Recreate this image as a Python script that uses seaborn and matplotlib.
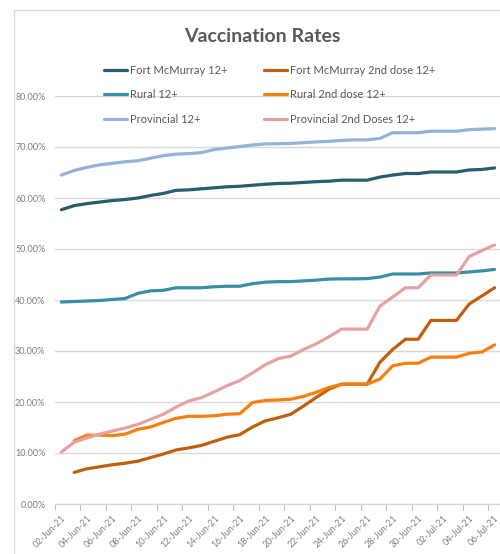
import matplotlib
matplotlib.use("Agg")
import matplotlib.pyplot as plt
import matplotlib.patches as mpatches
import numpy as np
import pandas as pd
import seaborn as sns

# dates shown on the category axis (one per day)
dates = pd.date_range("2021-06-02", "2021-07-06", freq="D")
date_labels = [d.strftime("%d-%b-%y") for d in dates]

fmm_12 = [57.7, 58.5, 58.9, 59.2, 59.5, 59.7, 60.0, 60.5, 60.9, 61.5, 61.6, 61.8,
          62.0, 62.2, 62.3, 62.5, 62.7, 62.85, 62.9, 63.05, 63.2, 63.3, 63.5, 63.5,
          63.5, 64.1, 64.5, 64.8, 64.8, 65.1, 65.1, 65.1, 65.5, 65.6, 65.9]
rural_12 = [39.6, 39.7, 39.8, 39.9, 40.1, 40.3, 41.3, 41.8, 41.9, 42.4, 42.4, 42.4,
            42.6, 42.7, 42.7, 43.2, 43.5, 43.6, 43.6, 43.75, 43.9, 44.1, 44.15, 44.15,
            44.2, 44.5, 45.1, 45.1, 45.1, 45.3, 45.3, 45.3, 45.5, 45.7, 46.0]
prov_12 = [64.5, 65.4, 66.0, 66.5, 66.8, 67.1, 67.3, 67.8, 68.3, 68.6, 68.7, 68.9,
           69.5, 69.8, 70.1, 70.4, 70.6, 70.65, 70.7, 70.85, 71.0, 71.1, 71.3, 71.4,
           71.4, 71.7, 72.8, 72.8, 72.8, 73.1, 73.1, 73.1, 73.4, 73.5, 73.6]
fmm_2nd = [np.nan, 6.2, 6.9, 7.3, 7.7, 8.0, 8.4, 9.1, 9.8, 10.6, 11.0, 11.5,
           12.3, 13.1, 13.6, 15.1, 16.3, 16.9, 17.6, 19.2, 20.9, 22.5, 23.5, 23.5,
           23.5, 27.8, 30.3, 32.3, 32.3, 36.0, 36.0, 36.0, 39.2, 40.8, 42.4]
rural_2nd = [np.nan, 12.4, 13.5, 13.5, 13.4, 13.7, 14.65, 15.1, 16.0, 16.8, 17.2, 17.2,
             17.3, 17.6, 17.7, 19.9, 20.3, 20.4, 20.55, 21.1, 21.9, 22.85, 23.5, 23.5,
             23.5, 24.5, 27.1, 27.6, 27.6, 28.8, 28.8, 28.8, 29.55, 29.8, 31.2]
prov_2nd = [10.2, 12.1, 12.95, 13.7, 14.3, 14.9, 15.6, 16.6, 17.6, 19.0, 20.2, 20.85,
            22.0, 23.2, 24.2, 25.7, 27.3, 28.5, 29.0, 30.3, 31.4, 32.8, 34.3, 34.3,
            34.3, 38.8, 40.6, 42.4, 42.4, 44.9, 44.9, 44.9, 48.5, 49.7, 50.8]

series = {
    "Fort McMurray 12+": fmm_12,
    "Rural 12+": rural_12,
    "Provincial 12+": prov_12,
    "Fort McMurray 2nd dose 12+": fmm_2nd,
    "Rural 2nd dose 12+": rural_2nd,
    "Provincial 2nd Doses 12+": prov_2nd,
}
colors = {
    "Fort McMurray 12+": "#255e6e",
    "Rural 12+": "#3a8ea5",
    "Provincial 12+": "#95b3d7",
    "Fort McMurray 2nd dose 12+": "#c0600c",
    "Rural 2nd dose 12+": "#f77f10",
    "Provincial 2nd Doses 12+": "#e4a3a2",
}

rows = []
for name, vals in series.items():
    for i, v in enumerate(vals):
        rows.append({"day": i, "rate": v, "series": name})
df = pd.DataFrame(rows).dropna()

sns.set_style("white")
plt.rcParams["font.family"] = ["Lato", "DejaVu Sans"]

W, H = 500, 554
fig = plt.figure(figsize=(W / 100, H / 100), dpi=100)
ax = fig.add_axes([55 / W, 1 - 504 / H, 446 / W, 408 / H])

order = list(series.keys())
sns.lineplot(data=df, x="day", y="rate", hue="series", hue_order=order,
             palette=colors, linewidth=2.3, ax=ax, legend=True)

n = len(dates)
ax.set_xlim(-0.5, n - 0.5)
ax.set_ylim(0, 80)
ax.set_yticks(np.arange(0, 81, 10))
ax.set_yticklabels([f"{v:.2f}%" for v in np.arange(0, 81, 10)])
ax.yaxis.grid(True, color="#d9d9d9", linewidth=1)
ax.xaxis.grid(False)
ax.set_xlabel("")
ax.set_ylabel("")

ax.set_xticks(np.arange(0, n, 2))
ax.set_xticklabels(date_labels[::2], rotation=45, ha="right",
                   rotation_mode="anchor")
ax.set_xticks(np.arange(-0.5, n - 1, 2), minor=True)
ax.tick_params(axis="x", which="major", length=0, pad=7, labelsize=6.5,
               labelcolor="#7f7f7f")
ax.tick_params(axis="x", which="minor", length=4, width=0.8, color="#bfbfbf",
               direction="out", bottom=True)
ax.tick_params(axis="y", length=0, pad=7, labelsize=6.5, labelcolor="#7f7f7f")

for s in ["left", "top", "right"]:
    ax.spines[s].set_visible(False)
ax.spines["bottom"].set_color("#d9d9d9")
ax.spines["bottom"].set_linewidth(1)

# legend in two columns above the plot
handles, labels = ax.get_legend_handles_labels()
ax.get_legend().remove()
leg_kw = dict(loc="upper left", frameon=False, fontsize=8, labelcolor="#595959",
              handlelength=2.1, handletextpad=0.2, labelspacing=1.2,
              borderpad=0, borderaxespad=0)
fig.legend(handles[:3], labels[:3], bbox_to_anchor=(104 / W, 1 - 65 / H), **leg_kw)
fig.legend(handles[3:], labels[3:], bbox_to_anchor=(264 / W, 1 - 65 / H), **leg_kw)

fig.text(262 / W, 1 - 37 / H, "Vaccination Rates", ha="center", va="center",
         fontsize=14, fontweight="bold", color="#595959")

# chart frame
fig.patches.append(mpatches.Rectangle((14 / W, -0.1), 2, 1 - 10 / H + 0.1,
                                      transform=fig.transFigure, fill=False,
                                      edgecolor="#d9d9d9", linewidth=1))

fig.savefig("out.png", dpi=100)
